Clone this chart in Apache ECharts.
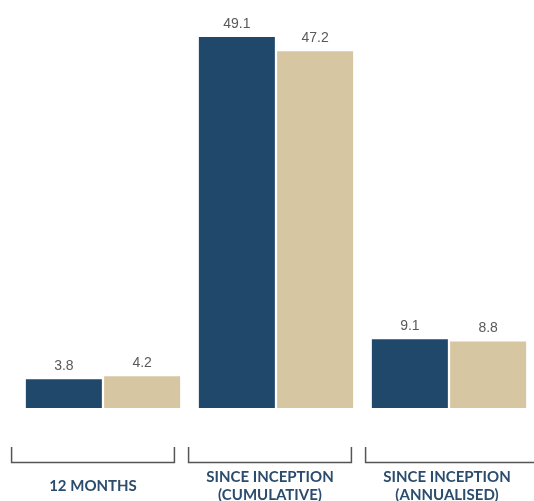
<!DOCTYPE html>
<html>
<head>
<meta charset="utf-8">
<script src="https://cdn.jsdelivr.net/npm/echarts@6/dist/echarts.min.js"></script>
<style>
  html, body { margin: 0; padding: 0; background: #fff; }
  #chart { width: 534px; height: 501px; }
</style>
</head>
<body>
<div id="chart"></div>
<script>
// data
var categories = ['12 MONTHS', 'SINCE INCEPTION\n(CUMULATIVE)', 'SINCE INCEPTION\n(ANNUALISED)'];
var fundValues = [3.8, 49.1, 9.1];
var benchValues = [4.2, 47.2, 8.8];

var myChart = echarts.init(document.getElementById('chart'));

// bracket under each category label (last one runs off the right edge, like the source)
function renderBracket(params, api) {
    var c = api.coord([api.value(0), 0]);
    var half = api.size([1, 0])[0] * 0.46;
    var top = c[1] + 39;
    var bottom = c[1] + 54.5;
    var right = params.dataIndex === categories.length - 1 ? api.getWidth() + 5 : c[0] + half;
    return {
        type: 'polyline',
        shape: {
            points: [[c[0] - half, top], [c[0] - half, bottom], [right, bottom], [right, top]]
        },
        style: { stroke: '#555', lineWidth: 1.5, fill: null }
    };
}

var valueLabel = {
    show: true, position: 'top', distance: 6,
    color: '#595959', fontSize: 14, fontFamily: 'Liberation Sans'
};

myChart.setOption({
    animation: false,
    grid: [
        { left: 16.5, width: 519, top: 37, height: 371, outerBoundsMode: 'none' },
        { left: 4.5, width: 531, top: 37, height: 371, outerBoundsMode: 'none' }
    ],
    xAxis: [
        {
            type: 'category', gridIndex: 0, data: categories,
            axisLine: { show: false }, axisTick: { show: false }, axisLabel: { show: false }
        },
        {
            type: 'category', gridIndex: 1, data: categories,
            axisLine: { show: false }, axisTick: { show: false },
            axisLabel: {
                margin: 78.5,
                verticalAlign: 'middle',
                color: '#2b4c6d',
                fontFamily: 'Lato',
                fontWeight: 'bold',
                fontSize: 15,
                lineHeight: 18
            }
        }
    ],
    yAxis: [
        { type: 'value', gridIndex: 0, min: 0, max: 49.1, show: false },
        { type: 'value', gridIndex: 1, min: 0, max: 49.1, show: false }
    ],
    series: [
        {
            type: 'bar', xAxisIndex: 0, yAxisIndex: 0,
            data: fundValues,
            barWidth: 76, barGap: '3%',
            itemStyle: { color: '#1f486b' },
            label: valueLabel
        },
        {
            type: 'bar', xAxisIndex: 0, yAxisIndex: 0,
            data: benchValues,
            barWidth: 76,
            itemStyle: { color: '#d6c6a2' },
            label: valueLabel
        },
        {
            type: 'custom', xAxisIndex: 1, yAxisIndex: 1,
            data: [[0], [1], [2]],
            renderItem: renderBracket,
            silent: true
        }
    ]
});
</script>
</body>
</html>
